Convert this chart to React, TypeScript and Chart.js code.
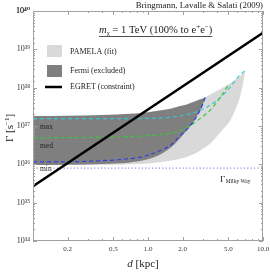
import React, { useEffect, useRef } from 'react';
import { Chart, registerables } from 'chart.js';
Chart.register(...registerables);

// ---- data (d in kpc, Gamma in s^-1) ----
const PAMELA_D = [0.1, 0.5, 1.0, 1.6, 2.2, 2.8, 3.16, 3.5, 4.3, 5.2, 5.8, 6.3, 6.7, 7.0];
const PAMELA_TOP = [1.58e37, 1.66e37, 1.91e37, 2.51e37, 3.31e37, 4.57e37, 5.62e37, 6.76e37, 9.33e37, 1.32e38, 1.66e38, 2.0e38, 2.34e38, 2.69e38];
const PAMELA_BOTTOM = [9.55e35, 9.8e35, 1.05e36, 1.26e36, 1.58e36, 2.24e36, 2.82e36, 3.55e36, 7.08e36, 1.41e37, 2.82e37, 5.62e37, 1.26e38, 2.69e38];

const FERMI_D = [0.1, 0.2, 0.4, 0.7, 1.0, 1.3, 1.6, 1.9, 2.2, 2.5, 2.8, 3.0, 3.16];
const FERMI_TOP = [1.82e37, 1.86e37, 1.95e37, 2.09e37, 2.29e37, 2.57e37, 2.88e37, 3.31e37, 3.72e37, 4.27e37, 4.9e37, 5.25e37, 5.62e37];
const FERMI_BOTTOM = [9.55e35, 9.8e35, 1.02e36, 1.12e36, 1.35e36, 1.86e36, 2.82e36, 4.79e36, 7.94e36, 1.32e37, 2.4e37, 3.63e37, 5.62e37];

const MAX_D = [0.1, 0.5, 1.0, 1.6, 2.2, 2.9, 3.5, 4.3, 5.2, 6.3, 7.0];
const MAX_G = [1.55e37, 1.55e37, 1.58e37, 1.7e37, 2.0e37, 2.63e37, 3.55e37, 5.62e37, 1.05e38, 2.14e38, 2.82e38];

const MED_D = [0.1, 0.5, 1.0, 1.5, 1.9, 2.35, 2.85, 3.5, 4.25, 5.0];
const MED_G = [4.9e36, 5.13e36, 5.62e36, 6.31e36, 7.59e36, 1.05e37, 1.58e37, 2.63e37, 5.62e37, 1.17e38];

const MIN_D = [0.1, 0.3, 0.6, 0.9, 1.3, 1.6, 1.9, 2.35, 2.85, 3.16];
const MIN_G = [1.15e36, 1.2e36, 1.35e36, 1.58e36, 2.34e36, 3.31e36, 5.5e36, 1.05e37, 2.63e37, 5.62e37];

const MW_D = [0.1, 10];
const MW_G = [7.94e35, 7.94e35];

const EGRET_D = [0.1, 10];
const EGRET_G = [2.7e35, 2.7e39];

const X_TICKS = [0.1, 0.2, 0.3, 0.4, 0.5, 0.6, 0.7, 0.8, 0.9, 1, 2, 3, 4, 5, 6, 7, 8, 9, 10];
const X_LABELS: Record<string, string> = { '0.2': '0.2', '0.5': '0.5', '1': '1.0', '2': '2.0', '5': '5.0', '10': '10.0' };

const SERIF = '"Liberation Serif", "DejaVu Serif", serif';
const SUP: Record<string, string> = { '0': '⁰', '1': '¹', '2': '²', '3': '³', '4': '⁴', '5': '⁵', '6': '⁶', '7': '⁷', '8': '⁸', '9': '⁹' };

const isDecade = (v: number) => Math.abs(Math.log10(v) - Math.round(Math.log10(v))) < 1e-6;

const pts = (xs: number[], ys: number[]) => xs.map((x, i) => ({ x, y: ys[i] }));

const decor = {
  id: 'decor',
  afterDatasetsDraw(chart: any) {
    const { ctx, chartArea: a, scales } = chart;
    const xs = scales.x;
    const ys = scales.y;
    ctx.save();
    const seg = (x1: number, y1: number, x2: number, y2: number) => {
      ctx.beginPath(); ctx.moveTo(x1, y1); ctx.lineTo(x2, y2); ctx.stroke();
    };
    // frame and inward ticks
    ctx.strokeStyle = '#a0a0a0';
    ctx.lineWidth = 1;
    ctx.strokeRect(a.left + 0.5, a.top + 0.5, a.right - a.left - 1, a.bottom - a.top - 1);
    ys.ticks.forEach((t: any) => {
      const p = Math.round(ys.getPixelForValue(t.value)) + 0.5;
      const L = isDecade(t.value) ? 4 : 2;
      seg(a.left, p, a.left + L, p);
      seg(a.right, p, a.right - L, p);
    });
    xs.ticks.forEach((t: any) => {
      const p = Math.round(xs.getPixelForValue(t.value)) + 0.5;
      const major = X_LABELS[String(t.value)] !== undefined || isDecade(t.value);
      const L = major ? 4 : 2;
      seg(p, a.bottom, p, a.bottom - L);
      seg(p, a.top, p, a.top + L);
    });

    ctx.fillStyle = '#222';
    ctx.textBaseline = 'middle';

    // title
    ctx.font = `8.8px ${SERIF}`;
    ctx.textAlign = 'right';
    ctx.fillText('Bringmann, Lavalle & Salati (2009)', a.right, 6);

    // inner heading with underline
    ctx.textAlign = 'left';
    ctx.textBaseline = 'alphabetic';
    let x = 99;
    const base = 33;
    const put = (s: string, font: string, dy = 0) => {
      ctx.font = font;
      ctx.fillText(s, x, base + dy);
      x += ctx.measureText(s).width;
    };
    put('m', `italic 10.6px ${SERIF}`);
    put('χ', `7px ${SERIF}`, 2);
    put(' = 1 TeV (100% to e', `10.6px ${SERIF}`);
    put('+', `7px ${SERIF}`, -4);
    put('e', `10.6px ${SERIF}`);
    put('−', `7px ${SERIF}`, -4);
    put(')', `10.6px ${SERIF}`);
    ctx.strokeStyle = '#222';
    ctx.lineWidth = 0.8;
    seg(99, 36.5, x, 36.5);

    // legend
    ctx.fillStyle = '#d9d9d9';
    ctx.fillRect(47, 45, 15, 12);
    ctx.fillStyle = '#7f7f7f';
    ctx.fillRect(47, 65, 15, 12);
    ctx.strokeStyle = '#000';
    ctx.lineWidth = 2.5;
    seg(45, 87, 62, 87);
    ctx.fillStyle = '#222';
    ctx.textBaseline = 'middle';
    ctx.font = `8px ${SERIF}`;
    ctx.fillText('PAMELA (fit)', 70, 52);
    ctx.fillText('Fermi (excluded)', 70, 71);
    ctx.fillText('EGRET (constraint)', 70, 87);

    // max / med / min
    ctx.font = `7.5px ${SERIF}`;
    ctx.fillText('max', 40, 127);
    ctx.fillText('med', 40, 146);
    const w = ctx.measureText('min').width;
    ctx.fillStyle = '#fff';
    ctx.fillRect(39, 165, w + 2, 7);
    ctx.fillStyle = '#222';
    ctx.fillText('min', 40, 169);

    // Milky Way label
    ctx.font = `9px ${SERIF}`;
    ctx.fillText('Γ', 220, 180);
    const gw = ctx.measureText('Γ').width;
    ctx.font = `5.5px ${SERIF}`;
    ctx.fillText('Milky Way', 220 + gw + 0.5, 182);

    // axis titles
    ctx.font = `italic 11px ${SERIF}`;
    ctx.textAlign = 'left';
    const dW = ctx.measureText('d').width;
    ctx.font = `11px ${SERIF}`;
    const rest = ' [kpc]';
    const rW = ctx.measureText(rest).width;
    const x0 = 143 - (dW + rW) / 2;
    ctx.font = `italic 11px ${SERIF}`;
    ctx.fillText('d', x0, 264);
    ctx.font = `11px ${SERIF}`;
    ctx.fillText(rest, x0 + dW, 264);

    ctx.translate(10, 128);
    ctx.rotate(-Math.PI / 2);
    ctx.font = `11px ${SERIF}`;
    const p1 = 'Γ [s';
    const p1W = ctx.measureText(p1).width;
    ctx.font = `7px ${SERIF}`;
    const supW = ctx.measureText('−1').width;
    ctx.font = `11px ${SERIF}`;
    const p3W = ctx.measureText(']').width;
    let tx = -(p1W + supW + p3W) / 2;
    ctx.fillText(p1, tx, 0);
    tx += p1W;
    ctx.font = `7px ${SERIF}`;
    ctx.fillText('−1', tx, -3);
    tx += supW;
    ctx.font = `11px ${SERIF}`;
    ctx.fillText(']', tx, 0);
    ctx.restore();
  },
};

export default function App() {
  const ref = useRef<HTMLCanvasElement>(null);
  useEffect(() => {
    const transparent = 'rgba(0,0,0,0)';
    const chart = new Chart(ref.current as HTMLCanvasElement, {
      type: 'scatter',
      data: {
        datasets: [
          { label: 'PAMELA (fit)', data: pts(PAMELA_D, PAMELA_TOP), showLine: true, pointRadius: 0, borderWidth: 0, borderColor: transparent, backgroundColor: '#d9d9d9', fill: '+1', cubicInterpolationMode: 'monotone', order: 8 },
          { label: 'PAMELA low', data: pts(PAMELA_D, PAMELA_BOTTOM), showLine: true, pointRadius: 0, borderWidth: 0, borderColor: transparent, backgroundColor: transparent, fill: false, cubicInterpolationMode: 'monotone', order: 9 },
          { label: 'Fermi (excluded)', data: pts(FERMI_D, FERMI_TOP), showLine: true, pointRadius: 0, borderWidth: 0, borderColor: transparent, backgroundColor: '#7f7f7f', fill: '+1', cubicInterpolationMode: 'monotone', order: 6 },
          { label: 'Fermi low', data: pts(FERMI_D, FERMI_BOTTOM), showLine: true, pointRadius: 0, borderWidth: 0, borderColor: transparent, backgroundColor: transparent, fill: false, cubicInterpolationMode: 'monotone', order: 7 },
          { label: 'max', data: pts(MAX_D, MAX_G), showLine: true, pointRadius: 0, borderWidth: 1.2, borderColor: '#34c6d2', borderDash: [4, 3], fill: false, cubicInterpolationMode: 'monotone', order: 5 },
          { label: 'med', data: pts(MED_D, MED_G), showLine: true, pointRadius: 0, borderWidth: 1.2, borderColor: '#3cc43c', borderDash: [4, 3], fill: false, cubicInterpolationMode: 'monotone', order: 4 },
          { label: 'min', data: pts(MIN_D, MIN_G), showLine: true, pointRadius: 0, borderWidth: 1.2, borderColor: '#3040e0', borderDash: [4, 3], fill: false, cubicInterpolationMode: 'monotone', order: 3 },
          { label: 'Milky Way', data: pts(MW_D, MW_G), showLine: true, pointRadius: 0, borderWidth: 1.2, borderColor: '#8a8ae8', borderDash: [1.2, 2.2], fill: false, order: 2 },
          { label: 'EGRET (constraint)', data: pts(EGRET_D, EGRET_G), showLine: true, pointRadius: 0, borderWidth: 2.5, borderColor: '#000', fill: false, order: 1 },
        ],
      },
      options: {
        animation: false,
        responsive: false,
        maintainAspectRatio: false,
        layout: { padding: { top: 11, right: 7, left: 0, bottom: 0 } },
        plugins: { legend: { display: false }, tooltip: { enabled: false } },
        scales: {
          x: {
            type: 'logarithmic',
            min: 0.1,
            max: 10,
            grid: { display: false, drawTicks: false },
            border: { display: false },
            afterBuildTicks: (s: any) => { s.ticks = X_TICKS.map((v) => ({ value: v })); },
            afterFit: (s: any) => { s.height = 32; s.paddingLeft = 0; s.paddingRight = 0; },
            ticks: {
              autoSkip: false,
              maxRotation: 0,
              minRotation: 0,
              padding: 4,
              color: '#333',
              font: { family: SERIF, size: 7 },
              callback: (v: any) => X_LABELS[String(v)] ?? '',
            },
          },
          y: {
            type: 'logarithmic',
            min: 1e34,
            max: 1e40,
            grid: { display: false, drawTicks: false },
            border: { display: false },
            afterFit: (s: any) => { s.width = 33; s.paddingTop = 0; s.paddingBottom = 0; },
            ticks: {
              autoSkip: false,
              padding: 3,
              color: '#333',
              font: { family: SERIF, size: 8 },
              callback: (v: any) => {
                const n = Number(v);
                if (!isDecade(n)) return '';
                const e = String(Math.round(Math.log10(n)));
                return '10' + e.split('').map((c) => SUP[c] ?? c).join('');
              },
            },
          },
        },
      },
      plugins: [decor],
    } as any);
    return () => chart.destroy();
  }, []);
  return (
    <div style={{ position: 'fixed', left: 0, top: 0, width: 270, height: 273, background: '#fff' }}>
      <canvas ref={ref} width={270} height={273} style={{ display: 'block' }} />
    </div>
  );
}
